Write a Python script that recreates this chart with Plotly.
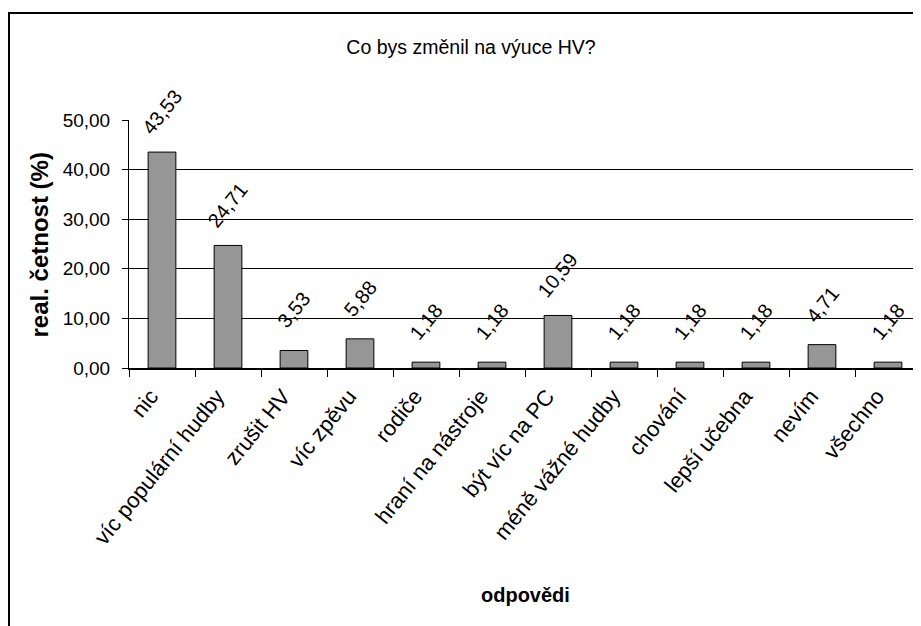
import plotly.graph_objects as go

# ---- data ----
categories = ["nic", "víc populární hudby", "zrušit HV", "víc zpěvu", "rodiče",
              "hraní na nástroje", "být víc na PC", "méně vážné hudby", "chování",
              "lepší učebna", "nevím", "všechno"]
values = [43.53, 24.71, 3.53, 5.88, 1.18, 1.18, 10.59, 1.18, 1.18, 1.18, 4.71, 1.18]
y_tick_values = [0, 10, 20, 30, 40, 50]
y_tick_labels = ["0,00", "10,00", "20,00", "30,00", "40,00", "50,00"]
title_text = "Co bys změnil na výuce HV?"
x_title = "odpovědi"
y_title = "real. četnost (%)"

value_labels = [f"{v:.2f}".replace(".", ",") for v in values]

SANS = "Liberation Sans, Arial, sans-serif"

# the page body adds an 8 px offset; layout is expressed in figure pixels
OFF = 8
W, H = 921, 626
PLOT_L, PLOT_R, PLOT_T, PLOT_B = 129 - OFF, 921 - OFF, 120 - OFF, 368 - OFF

fig = go.Figure()
fig.add_trace(go.Bar(
    x=categories, y=values,
    marker=dict(color="#969696", line=dict(color="#000000", width=1)),
    hoverinfo="x+y",
))

annotations = []
for c, v, t in zip(categories, values, value_labels):
    annotations.append(dict(
        x=c, y=v, xref="x", yref="y", text=t, showarrow=False,
        textangle=-51, xanchor="center", yanchor="middle", yshift=40,
        font=dict(family=SANS, size=20, color="#000000"),
    ))

pw = PLOT_R - PLOT_L
ph = PLOT_B - PLOT_T

# axis titles
annotations.append(dict(
    x=0.5, y=-0.915, xref="paper", yref="paper", text=f"<b>{x_title}</b>",
    showarrow=False, xanchor="center", yanchor="middle",
    font=dict(family=SANS, size=20, color="#000000"),
))
annotations.append(dict(
    x=-0.113, y=0.496, xref="paper", yref="paper", text=f"<b>{y_title}</b>",
    showarrow=False, xanchor="center", yanchor="middle", textangle=-90,
    font=dict(family=SANS, size=24, color="#000000"),
))

fig.update_layout(
    width=W, height=H,
    margin=dict(l=PLOT_L, r=W - PLOT_R, t=PLOT_T, b=H - PLOT_B, autoexpand=False),
    paper_bgcolor="#ffffff", plot_bgcolor="#ffffff",
    showlegend=False,
    bargap=0.58,
    separators=", ",
    title=dict(text=title_text, x=(471 - OFF) / W, y=1 - (47 - OFF) / H,
               xanchor="center", yanchor="middle", automargin=False,
               font=dict(family=SANS, size=19.5, color="#000000")),
    annotations=annotations,
    shapes=[dict(type="rect", xref="paper", yref="paper",
                 x0=(9 - 129) / pw, x1=(945 - 129) / pw,
                 y0=(368 - 645) / ph, y1=(368 - 13) / ph,
                 line=dict(color="#000000", width=2), fillcolor="rgba(0,0,0,0)",
                 layer="below")],
)

fig.update_xaxes(
    type="category", range=[-0.5, 11.5], automargin=False,
    showline=True, linecolor="#000000", linewidth=1.5,
    ticks="outside", tickson="boundaries", ticklen=7, tickcolor="#000000",
    tickangle=-51, showgrid=False, ticklabelshift=-11, ticklabelstandoff=5,
    tickfont=dict(family=SANS, size=22, color="#000000"),
)
fig.update_yaxes(
    range=[0, 50], tickvals=y_tick_values, ticktext=y_tick_labels,
    automargin=False,
    showline=True, linecolor="#000000", linewidth=1,
    showgrid=True, gridcolor="#000000", gridwidth=1,
    ticks="outside", ticklen=6, tickcolor="#000000",
    ticklabelstandoff=8, zeroline=False,
    tickfont=dict(family=SANS, size=19, color="#000000"),
)

fig.write_html("out.html")
